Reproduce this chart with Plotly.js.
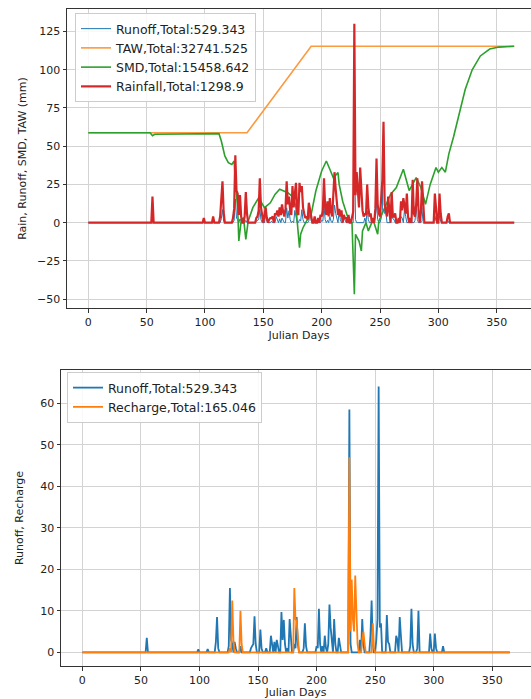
<!DOCTYPE html>
<html>
<head>
<meta charset="utf-8">
<script src="https://cdn.plot.ly/plotly-3.0.1.min.js"></script>
<style>html,body{margin:0;padding:0;background:#fff;}#chart{width:531px;height:699px;}</style>
</head>
<body>
<div id="chart"></div>
<script>
// ---- Data ----
const dayCount = 366; // Julian days 0..365

// Daily rainfall events [day, mm]
const rainEvents = [
  [55,17],[99,3],[107,4],
  [113,4],[114,13],[115,27],[116,7],
  [124,3],[125,9],[126,44],[127,21],[128,19],[129,5],[130,18],[131,4],
  [134,4],[135,20],[136,6],
  [144,3],[145,4],[146,8],[147,29],[148,10],[149,3],
  [151,5],[152,10],[153,3],[155,2],[156,3],[157,3],[158,4],
  [160,6],[161,5],[162,8],[163,4],[164,10],[165,5],[166,12],[167,7],[168,4],
  [169,9],[170,27],[171,12],[172,17],[173,8],[174,5],
  [175,24],[176,10],[177,19],[178,26],[179,7],[180,5],
  [181,26],[182,20],[183,24],[184,10],[185,6],[186,3],
  [187,4],[188,2],[189,13],[190,8],[191,3],[194,4],[197,3],[199,5],
  [200,4],[201,8],[202,29],[203,10],[204,5],[205,14],[206,4],[207,16],[208,7],[209,4],
  [210,18],[211,33],[212,22],[213,15],[214,5],[215,9],[216,4],
  [217,8],[219,5],[220,3],[221,3],[223,5],
  [226,4],[227,7],[228,130],[229,18],[230,33],[231,20],[232,10],[233,36],[234,22],[235,8],[236,4],
  [237,6],[238,5],[239,25],[240,10],[241,4],[242,6],
  [244,3],[246,9],[247,42],[248,12],[249,6],[250,4],
  [251,18],[252,28],[253,66],[254,12],[255,8],[256,4],
  [257,17],[258,5],[260,20],[261,4],[262,4],[263,6],
  [266,3],[268,14],[269,8],[270,16],[271,12],[272,6],[273,19],[274,4],
  [276,3],[278,28],[279,6],[280,4],[281,12],[282,29],[283,8],[285,6],[286,27],[287,14],
  [297,19],[298,7],[301,19],[302,6],[308,4],[309,6]
];

// Daily runoff events [day, mm]
const runoffEvents = [
  [55,3.5],[99,0.7],[107,0.8],
  [114,2.5],[115,8.5],[116,1],
  [125,1.5],[126,15.5],[127,3],[128,2],[130,2.5],[131,1],[135,1.5],
  [144,1],[145,1.5],[146,2],[147,8.7],[148,2],
  [152,5.5],[153,1],[157,1],
  [161,4],[162,1.5],[164,2.5],[166,3],[167,1],
  [170,9.7],[171,3],[172,7.8],[173,2],
  [175,1],[177,8],[178,3],
  [181,2],[182,1],[183,8.5],[184,2],
  [189,1],[190,7],[191,1.5],
  [200,1.5],[201,1],[202,10.5],[203,2],[205,1.5],[207,4],[208,1],
  [210,2],[211,11.5],[212,6],[213,2],[215,8],[216,2],[219,3.5],[220,1],
  [228,58.5],[229,2],
  [237,3],[239,8],[240,2],
  [246,4],[247,12.5],[248,2],
  [251,3],[252,8],[253,64],[254,6],[255,7],
  [260,9],[261,2.5],[262,2],
  [268,4],[269,3],[271,8.5],[272,4],
  [280,1.5],[281,10.5],[282,2],[286,1],[287,10],
  [297,4.5],[298,1],[301,4.5],[302,1],[308,1.5]
];

// Daily recharge events [day, mm]
const rechargeEvents = [
  [126,1],[128,12.5],[129,3],[135,10],[136,2],
  [181,15.5],[182,8],[183,7.5],[184,3],
  [228,47],[229,5],[230,17.5],[231,8],[232,5],[233,18.5],[234,10],[235,2],
  [239,3],[240,5],[241,2],[248,7],[249,1]
];

// TAW vertices
const tawDays = [0, 136, 191, 365];
const tawMm   = [58.8, 58.8, 115.3, 115.3];

// SMD vertices
const smdDays = [0,53,55,57,112,114,117,120,123,125,126,128,129,131,133,135,137,141,146,148,151,156,160,164,167,171,176,178,181,182,184,187,191,195,200,204,207,210,214,215,218,222,226,228,229,232,234,235,238,240,244,248,249,254,259,264,270,275,281,285,289,293,298,300,303,306,309,313,318,323,329,336,344,352,365];
const smdMm   = [58.8,58.8,56.8,57.8,58.2,53.4,43.6,39.2,38,40.3,27,10,-12,1,3.3,-10.9,1,9.8,16.3,14,9.8,13,18.5,21.8,20.7,19.6,16.3,9.8,-16.3,-7.6,-3.3,1,5.4,20.7,33.8,40.3,34.9,29.4,32.7,25,14,4.4,0,-46.8,-7.6,-12,-18.5,-5.4,0,-5.4,2,-7.6,1,9.8,18.5,22.9,34.9,21,29.5,23,12,25,36,33,36,33,45,56,72,87,100,109,113.5,114.8,115.3];

const legendNames = {
  runoff: 'Runoff,Total:529.343',
  taw: 'TAW,Total:32741.525',
  smd: 'SMD,Total:15458.642',
  rain: 'Rainfall,Total:1298.9',
  recharge: 'Recharge,Total:165.046'
};

// ---- Build daily tables ----
const days = [];
for (let d = 0; d < dayCount; d++) days.push(d);
function daily(events) {
  const y = days.map(() => 0);
  events.forEach(([d, v]) => { y[d] = v; });
  return y;
}
const rain = daily(rainEvents);
const runoff = daily(runoffEvents);
const recharge = daily(rechargeEvents);

const C = {blue:'#1f77b4', orange:'#ff7f0e', green:'#2ca02c', red:'#d62728'};
const LW = 1.6;

const traces = [
  {x: days, y: runoff, name: legendNames.runoff, type:'scatter', mode:'lines', line:{color:C.blue, width:1}, xaxis:'x', yaxis:'y', legend:'legend'},
  {x: tawDays, y: tawMm, name: legendNames.taw, type:'scatter', mode:'lines', line:{color:'#fb9a3e', width:LW}, xaxis:'x', yaxis:'y', legend:'legend'},
  {x: smdDays, y: smdMm, name: legendNames.smd, type:'scatter', mode:'lines', line:{color:C.green, width:LW}, xaxis:'x', yaxis:'y', legend:'legend'},
  {x: days, y: rain, name: legendNames.rain, type:'scatter', mode:'lines', line:{color:C.red, width:2.2}, xaxis:'x', yaxis:'y', legend:'legend'},
  {x: days, y: runoff, name: legendNames.runoff, type:'scatter', mode:'lines', line:{color:C.blue, width:1.8}, xaxis:'x2', yaxis:'y2', legend:'legend2'},
  {x: days, y: recharge, name: legendNames.recharge, type:'scatter', mode:'lines', line:{color:C.orange, width:1.8}, xaxis:'x2', yaxis:'y2', legend:'legend2'}
];

const W = 531, H = 699;
const axisCommon = {
  showgrid: true, gridcolor: '#d3d3d3', gridwidth: 1,
  zeroline: false, showline: true, linecolor: '#333', linewidth: 1,
  ticks: 'outside', ticklen: 3.5, tickwidth: 1, tickcolor: '#333',
  tickfont: {size: 11, color: '#222'}
};
const xTicks = [0,50,100,150,200,250,300,350];

const layout = {
  width: W, height: H,
  margin: {l:0, r:0, t:0, b:0},
  paper_bgcolor: '#fff', plot_bgcolor: '#fff',
  font: {family: 'DejaVu Sans, sans-serif', color: '#222'},
  showlegend: true,
  xaxis: Object.assign({}, axisCommon, {
    domain: [67/W, 1], range: [-18.25, 379.4], anchor: 'y', mirror: true,
    tickvals: xTicks,
    title: {text: 'Julian Days', font: {size: 11, color:'#222'}, standoff: 1}
  }),
  yaxis: Object.assign({}, axisCommon, {
    domain: [1 - 308/H, 1 - 9/H], range: [-55.8, 139.7], anchor: 'x',
    tickvals: [-50,-25,0,25,50,75,100,125],
    title: {text: 'Rain, Runoff, SMD, TAW (mm)', font: {size: 11, color:'#222'}, standoff: 8}
  }),
  xaxis2: Object.assign({}, axisCommon, {
    domain: [61/W, 1], range: [-18.25, 383.1], anchor: 'y2', mirror: true,
    tickvals: xTicks,
    title: {text: 'Julian Days', font: {size: 11, color:'#222'}, standoff: 1}
  }),
  yaxis2: Object.assign({}, axisCommon, {
    domain: [1 - 666/H, 1 - 370/H], range: [-3.3, 68.0], anchor: 'x2',
    tickvals: [0,10,20,30,40,50,60],
    title: {text: 'Runoff, Recharge', font: {size: 11, color:'#222'}, standoff: 14}
  }),
  legend: {
    x: 75/W, y: 1 - 13/H, xanchor: 'left', yanchor: 'top',
    bgcolor: 'rgba(255,255,255,0.85)', bordercolor: '#cccccc', borderwidth: 1,
    font: {size: 12.5, color: '#222'}, tracegroupgap: 0
  },
  legend2: {
    x: 67/W, y: 1 - 372/H, xanchor: 'left', yanchor: 'top',
    bgcolor: 'rgba(255,255,255,0.85)', bordercolor: '#cccccc', borderwidth: 1,
    font: {size: 12.5, color: '#222'}, tracegroupgap: 0
  }
};

Plotly.newPlot('chart', traces, layout, {displayModeBar: false, staticPlot: true});
</script>
</body>
</html>
